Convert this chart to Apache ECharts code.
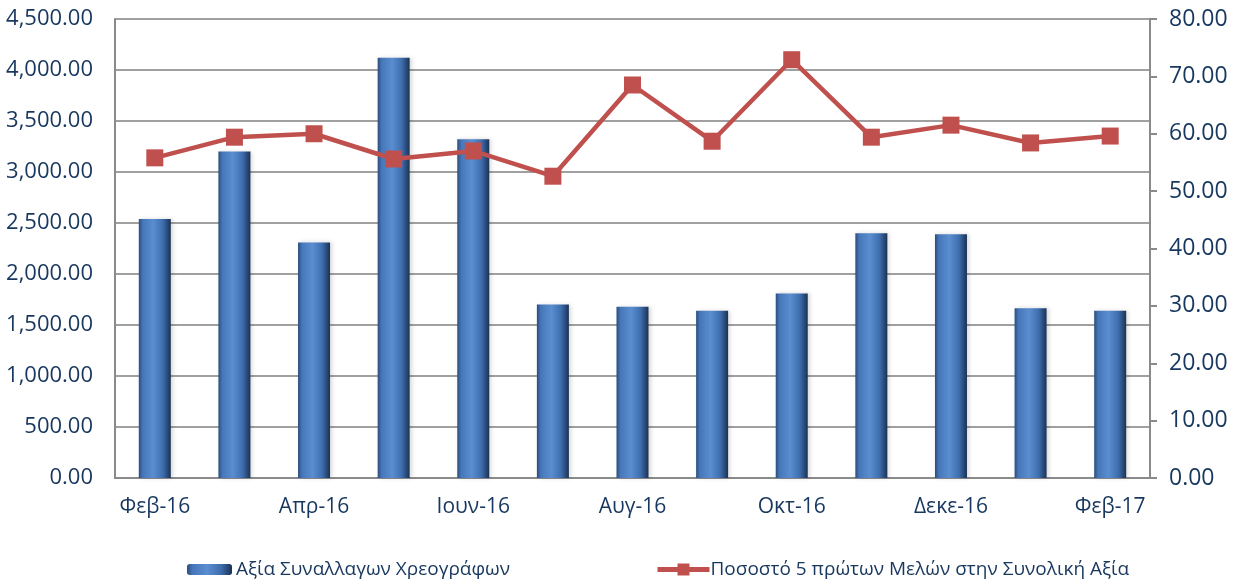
<!DOCTYPE html>
<html>
<head>
<meta charset="utf-8">
<script src="https://cdn.jsdelivr.net/npm/echarts@6/dist/echarts.min.js"></script>
<style>
html,body{margin:0;padding:0;background:#fff;}
#chart{width:1239px;height:586px;}
</style>
</head>
<body>
<div id="chart"></div>
<script>
const categories = ['Φεβ-16','Μαρ-16','Απρ-16','Μαϊ-16','Ιουν-16','Ιουλ-16','Αυγ-16','Σεπ-16','Οκτ-16','Νοε-16','Δεκε-16','Ιαν-17','Φεβ-17'];
const tradeValue = [2540, 3200, 2310, 4120, 3320, 1700, 1680, 1640, 1810, 2400, 2390, 1665, 1640];
const top5Share = [55.8, 59.4, 60.0, 55.6, 57.0, 52.6, 68.5, 58.7, 72.9, 59.4, 61.5, 58.4, 59.6];
const barName = 'Αξία Συναλλαγων Χρεογράφων';
const lineName = 'Ποσοστό 5 πρώτων Μελών στην Συνολική Αξία';

const navy = '#17375E';
const font = '"Open Sans", "Noto Sans", sans-serif';

const chart = echarts.init(document.getElementById('chart'), null, {renderer:'canvas'});
chart.setOption({
  animation:false,
  backgroundColor:'#fff',
  grid:{left:115, right:89, top:19, bottom:108},
  legend:[
    {data:[barName], left:182, top:555, itemWidth:45, itemHeight:11, itemGap:5,
     textStyle:{color:navy, fontFamily:font, fontSize:19, padding:[0,0,0,-1]}},
    {data:[lineName], left:650, top:555, itemWidth:52, itemHeight:15,
     lineStyle:{width:5},
     textStyle:{color:navy, fontFamily:font, fontSize:19, padding:[0,0,0,-4]}}
  ],
  xAxis:{
    type:'category', data:categories, boundaryGap:true,
    axisLine:{lineStyle:{color:'#8a8a8a', width:2}},
    axisTick:{show:false},
    axisLabel:{interval:1, color:navy, fontFamily:font, fontSize:21, margin:19}
  },
  yAxis:[
    {type:'value', min:0, max:4500, interval:500,
     axisLine:{show:true, lineStyle:{color:'#8a8a8a', width:2}},
     axisTick:{show:false},
     splitLine:{show:true, lineStyle:{color:'#a0a0a0', width:2}},
     axisLabel:{color:navy, fontFamily:font, fontSize:22, margin:22,
       formatter:v=>v.toLocaleString('en-US',{minimumFractionDigits:2, maximumFractionDigits:2})}},
    {type:'value', min:0, max:80, interval:10, position:'right',
     axisLine:{show:true, lineStyle:{color:'#8a8a8a', width:2}},
     axisTick:{show:true, length:7, lineStyle:{color:'#8a8a8a', width:2}},
     splitLine:{show:false},
     axisLabel:{color:navy, fontFamily:font, fontSize:23, margin:19,
       formatter:v=>v.toFixed(2)}}
  ],
  series:[
    {name:barName, type:'bar', yAxisIndex:0, data:tradeValue, barWidth:32,
     itemStyle:{
       color:new echarts.graphic.LinearGradient(0,0,1,0,[
         {offset:0, color:'#2a4d7d'},
         {offset:0.12, color:'#4676b8'},
         {offset:0.45, color:'#5a8ed1'},
         {offset:0.75, color:'#3f6eae'},
         {offset:1, color:'#1a3254'}
       ]),
       shadowColor:'rgba(0,0,0,0.15)', shadowBlur:4, shadowOffsetX:2
     }},
    {name:lineName, type:'line', yAxisIndex:1, data:top5Share, z:5,
     symbol:'rect', symbolSize:17,
     lineStyle:{color:'#C0504D', width:4.5},
     itemStyle:{color:'#C0504D'}}
  ]
});
</script>
</body>
</html>
